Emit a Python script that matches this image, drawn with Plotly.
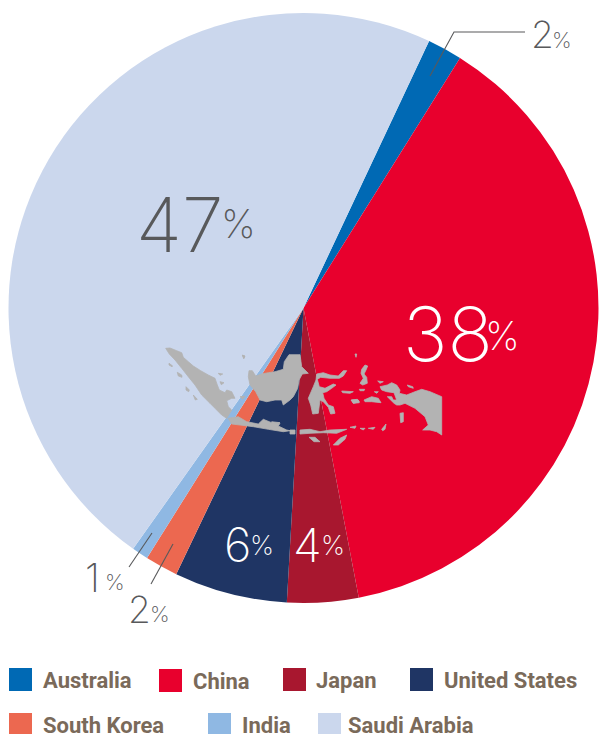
import plotly.graph_objects as go

W, H = 599, 734
countries = ["Australia", "China", "Japan", "United States", "South Korea", "India", "Saudi Arabia"]
shares = [1.9, 38.1, 3.9, 6.2, 1.8, 0.9, 47.2]
share_labels = [2, 38, 4, 6, 2, 1, 47]
colors = ["#0069b4", "#e8002d", "#a8172f", "#1f3564", "#ec6850", "#8fb8e3", "#cbd7ed"]
label_colors = ["#58595b", "#ffffff", "#ffffff", "#ffffff", "#58595b", "#58595b", "#58595b"]

# digit box: left x, centre y, size
digit_pos = [(529, 34.5, 37), (401, 333.5, 75), (291, 544.5, 47), (222, 544.5, 47), (126, 609.5, 37), (83, 577.5, 39), (134, 224, 75)]
# percent box: left x, centre y, size
pct_pos = [(550, 40, 22), (483, 335, 39), (319, 545.5, 27), (248, 545.5, 27), (148, 614, 22), (103, 581.5, 22), (219, 223, 39)]
legend_pos = [(9, 668, 41, 680), (159, 669, 191, 681), (283, 668, 314, 680), (410, 668, 442, 680),
              (9, 713, 41, 725), (208, 713, 240, 725), (318, 713, 346, 725)]
leaders = [[(430, 76), (454, 32), (525, 32)],
           [(152, 533), (129, 567)],
           [(173, 544), (151, 584)]]

# Indonesia silhouette, grouped by 3x crop with (origin x, origin y)
map_groups = [
    ((160, 340), [
        [(17,25),(30,24),(50,32),(65,38),(70,52),(85,65),(100,78),(122,92),(145,105),(165,115),(172,135),(178,150),(195,158),(200,150),(215,155),(225,175),(215,175),(200,182),(205,200),(215,210),(200,235),(185,225),(165,205),(150,190),(125,165),(105,135),(85,110),(65,85),(45,60),(28,42)],
        [(27,70),(38,78),(36,80),(27,75)],
        [(52,97),(65,105),(66,112),(55,108)],
        [(78,140),(88,150),(86,155),(78,150)],
        [(100,165),(112,178),(106,180)],
        [(175,100),(188,102),(180,106)],
        [(180,125),(192,128),(184,134)],
        [(248,47),(254,48),(252,55)],
        [(240,170),(255,168),(248,178)],
    ]),
    ((225, 350), [
        [(72,62),(82,62),(92,78),(110,72),(130,68),(150,65),(175,58),(178,35),(192,14),(225,14),(228,35),(230,50),(250,70),(232,72),(222,90),(218,115),(205,140),(195,150),(175,165),(170,150),(150,150),(125,155),(105,150),(92,125),(75,105),(70,80)],
        [(52,15),(60,18),(56,26)],
        [(10,205),(40,200),(65,215),(100,222),(115,208),(140,218),(165,220),(160,228),(185,240),(195,242),(175,245),(130,238),(85,230),(45,225),(20,222)],
        [(140,215),(165,218),(140,222)],
        [(195,240),(210,240),(210,252),(195,252)],
    ]),
    ((300, 350), [
        [(0,240),(30,238),(60,245),(90,240),(140,238),(110,250),(70,248),(30,250),(0,252)],
        [(27,262),(45,262),(60,275),(42,275)],
        [(100,285),(120,265),(140,255),(135,268),(115,285)],
        [(50,72),(70,68),(90,75),(115,78),(130,62),(140,62),(130,78),(118,85),(90,85),(62,82),(52,88),(58,110),(75,115),(100,102),(108,105),(95,115),(80,125),(68,128),(72,145),(85,165),(100,170),(105,190),(92,192),(85,172),(70,155),(60,150),(55,190),(38,192),(32,165),(25,145),(40,110),(48,90)],
        [(125,123),(160,125),(150,130),(128,128)],
        [(155,150),(175,150),(178,158),(160,160)],
    ]),
    ((350, 350), [
        [(45,45),(53,48),(48,60),(42,72),(50,82),(52,100),(38,105),(30,100),(40,85),(33,70),(35,58)],
        [(28,118),(44,118),(42,122),(30,122)],
        [(3,150),(22,148),(28,155),(10,160)],
        [(42,150),(65,140),(85,145),(93,158),(65,155),(45,155)],
        [(90,110),(112,105),(125,98),(140,105),(150,120),(148,130),(170,135),(195,125),(215,118),(240,125),(275,140),(275,255),(260,245),(240,240),(218,240),(235,225),(225,200),(195,175),(165,160),(150,165),(140,165),(132,160),(112,140),(125,140),(130,150),(140,150),(132,128),(110,125),(95,120)],
        [(83,93),(100,95),(90,100)],
        [(73,125),(85,125),(80,130)],
        [(172,105),(188,110),(190,115),(175,110)],
        [(150,190),(160,188),(160,215),(152,218)],
        [(95,238),(108,222),(105,238),(98,242)],
        [(0,232),(18,228),(15,235)],
        [(30,235),(45,235),(40,240)],
        [(55,235),(75,232),(70,238)],
        [(15,12),(20,12),(18,22)],
    ]),
]

fig = go.Figure()
fig.add_trace(go.Pie(
    labels=countries, values=shares, sort=False, direction="clockwise", rotation=25.2,
    marker=dict(colors=colors, line=dict(width=0)), textinfo="none", hoverinfo="label+percent",
    showlegend=False,
    domain=dict(x=[8.5 / W, 598.5 / W], y=[1 - 603 / H, 1 - 13 / H]),
))

shapes = []
for (ox, oy), polys in map_groups:
    for poly in polys:
        pts = [(ox + x / 3, oy + y / 3) for x, y in poly]
        d = "M" + "L".join(f"{x:.1f},{y:.1f}" for x, y in pts) + "Z"
        shapes.append(dict(type="path", path=d, xref="x", yref="y", fillcolor="#b3b3b3",
                           line=dict(width=0.8, color="#b3b3b3")))
for line in leaders:
    d = "M" + "L".join(f"{x},{y}" for x, y in line)
    shapes.append(dict(type="path", path=d, xref="x", yref="y", line=dict(color="#58595b", width=1.1)))

annotations = []
for val, (x, y, s), (px, py, ps), col in zip(share_labels, digit_pos, pct_pos, label_colors):
    annotations.append(dict(
        x=x, y=y, xref="x", yref="y", xanchor="left", yanchor="middle", showarrow=False,
        text=str(val), font=dict(family="Inter", size=s, color=col, weight=200),
    ))
    annotations.append(dict(
        x=px, y=py, xref="x", yref="y", xanchor="left", yanchor="middle", showarrow=False,
        text="%", font=dict(family="Inter", size=ps, color=col, weight=200),
    ))
for name, col, (sx, sy, tx, ty) in zip(countries, colors, legend_pos):
    shapes.append(dict(type="rect", xref="x", yref="y", x0=sx, x1=sx + 23, y0=sy, y1=sy + 23,
                       fillcolor=col, line=dict(width=0)))
    annotations.append(dict(
        x=tx, y=ty, xref="x", yref="y", xanchor="left", yanchor="middle", showarrow=False,
        text=name, font=dict(family="Roboto", size=22, color="#7a6a5a", weight=700),
    ))

fig.update_layout(
    width=W, height=H, margin=dict(l=0, r=0, t=0, b=0),
    paper_bgcolor="white", plot_bgcolor="rgba(0,0,0,0)", showlegend=False,
    xaxis=dict(range=[0, W], visible=False, domain=[0, 1], fixedrange=True),
    yaxis=dict(range=[H, 0], visible=False, domain=[0, 1], fixedrange=True),
    shapes=shapes, annotations=annotations,
)
fig.write_html("out.html", config=dict(displayModeBar=False),
               post_script="document.body.style.margin='0';document.body.style.overflow='hidden';")
